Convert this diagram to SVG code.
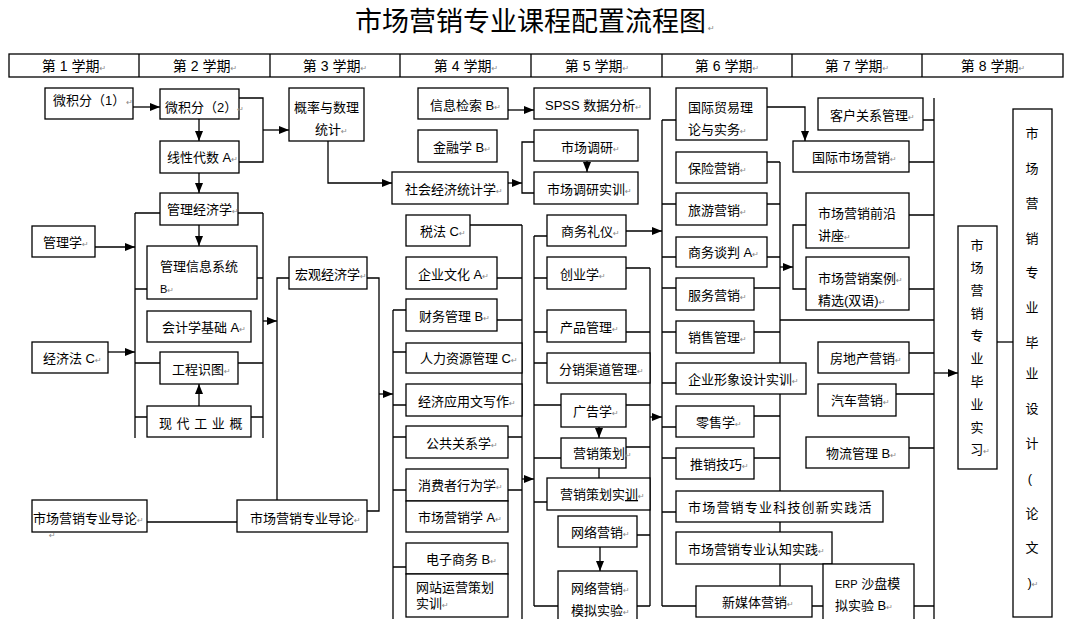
<svg xmlns="http://www.w3.org/2000/svg" width="1067" height="619" viewBox="0 0 1067 619">
<style>
.b{fill:#fff;stroke:#000;stroke-width:1.3}
.t{font-family:"Liberation Sans","Noto Sans CJK SC",sans-serif;font-size:13px;fill:#000}
.h{font-size:14px}
.r{font-family:"DejaVu Sans",sans-serif;font-size:8px;fill:#888}
.c{fill:none;stroke:#000;stroke-width:1.3}
.a{marker-end:url(#ah)}
.v{text-anchor:middle}
</style>
<defs>
<marker id="ah" markerWidth="10" markerHeight="8" refX="10" refY="4" orient="auto" markerUnits="userSpaceOnUse"><path d="M0,0 L10,4 L0,8 z" fill="#000"/></marker>
</defs>
<rect width="1067" height="619" fill="#fff"/>
<g id="title"><text class="t" x="355" y="31" style="font-size:27px">市场营销专业课程配置流程图<tspan class="r" dx="2">↵</tspan></text></g>
<g id="header">
<rect class="b" x="9" y="54" width="1054" height="23"/>
<path class="c" d="M139,54V77M270,54V77M400,54V77M531,54V77M662,54V77M792,54V77M922,54V77"/>
<text class="t h v" x="74" y="71">第 1 学期<tspan class="r">↵</tspan></text>
<text class="t h v" x="205" y="71">第 2 学期<tspan class="r">↵</tspan></text>
<text class="t h v" x="335" y="71">第 3 学期<tspan class="r">↵</tspan></text>
<text class="t h v" x="466" y="71">第 4 学期<tspan class="r">↵</tspan></text>
<text class="t h v" x="597" y="71">第 5 学期<tspan class="r">↵</tspan></text>
<text class="t h v" x="727" y="71">第 6 学期<tspan class="r">↵</tspan></text>
<text class="t h v" x="857" y="71">第 7 学期<tspan class="r">↵</tspan></text>
<text class="t h v" x="993" y="71">第 8 学期<tspan class="r">↵</tspan></text>
</g>
<g id="connectors">
<path class="c a" d="M133,107H160"/>
<path class="c a" d="M199,119V141"/>
<path class="c a" d="M199,173V193"/>
<path class="c" d="M239,98H263V162H239"/>
<path class="c a" d="M263,130H289"/>
<path class="c a" d="M328,141V183H392"/>
<path class="c a" d="M508,110H534"/>
<path class="c a" d="M508,183H522"/>
<path class="c" d="M534,142H522V193H534"/>
<path class="c a" d="M587,161V172"/>
<path class="c" d="M135,213V438M263,213V438M135,213H160M238,213H263M135,289H147M257,278H263M135,363H160M238,363H263M135,417H147M251,417H263"/>
<path class="c a" d="M199,225V246"/>
<path class="c a" d="M95,247H135"/>
<path class="c a" d="M108,352H135"/>
<path class="c a" d="M199,406V384"/>
<path class="c a" d="M263,321H277"/>
<path class="c" d="M289,278H277V500"/>
<path class="c" d="M147,522H237"/>
<path class="c" d="M367,278H379V511H367"/>
<path class="c a" d="M379,394H393"/>
<path class="c" d="M393,310V619M393,310H406M393,352H406M393,405H406M393,437H406M393,490H406M393,567H406"/>
<path class="c" d="M522,225V619M470,225H522M497,278H522M497,320H522M508,437H522M508,490H522"/>
<path class="c a" d="M522,479H534"/>
<path class="c" d="M534,236V606M534,236H547M534,278H547M534,332H547M534,363H547M534,405H561M534,458H561M534,502H547M534,606H558"/>
<path class="c" d="M650,268V606M626,268H650M626,332H650M626,405H650M626,447H650M637,535H650M637,606H650"/>
<path class="c a" d="M599,427V438"/>
<path class="c a" d="M599,468V488"/>
<path class="c a" d="M600,547V571"/>
<path class="c a" d="M626,231H662"/>
<path class="c a" d="M650,417H662"/>
<path class="c" d="M662,120V606M662,120H676M662,204H676M662,257H676M662,288H676M662,332H676M662,383H676M662,427H676M662,458H676M662,512H676M662,606H696"/>
<path class="c" d="M780,162V586M767,162H780M767,204H780M767,257H780M754,288H780M754,332H780M754,416H780M754,458H780"/>
<path class="c a" d="M780,267H793"/>
<path class="c" d="M806,225H793V289H806"/>
<path class="c" d="M780,320H934"/>
<path class="c" d="M812,606H823M914,606H934"/>
<path class="c a" d="M767,107H805V141"/>
<path class="c" d="M934,98V619M923,120H934M909,162H934M909,215H934M909,289H934M909,353H934M896,394H934M909,448H934"/>
<path class="c a" d="M934,373H958"/>
<path class="c" d="M997,342H1013"/>
</g>
<g id="n_wjf1"><rect class="b" x="45" y="88" width="88" height="31"/><text class="t" x="53" y="105">微积分（1）<tspan class="r" dx="1">↵</tspan></text></g>
<g id="n_glx"><rect class="b" x="32" y="226" width="63" height="31"/><text class="t" x="43" y="247">管理学<tspan class="r">↵</tspan></text></g>
<g id="n_jjf"><rect class="b" x="32" y="342" width="76" height="31"/><text class="t" x="43" y="363">经济法 C<tspan class="r">↵</tspan></text></g>
<g id="n_dl1"><rect class="b" x="32" y="500" width="115" height="32"/><text class="t" x="33" y="523">市场营销专业导论<tspan class="r">↵</tspan></text><text class="r" x="49" y="538">↵</text></g>
<g id="n_wjf2"><rect class="b" x="160" y="89" width="79" height="30"/><text class="t" x="165" y="112">微积分（2）<tspan class="r">↵</tspan></text></g>
<g id="n_xxds"><rect class="b" x="160" y="141" width="79" height="32"/><text class="t" x="167" y="162">线性代数 A<tspan class="r">↵</tspan></text></g>
<g id="n_gljjx"><rect class="b" x="160" y="193" width="78" height="32"/><text class="t" x="167" y="214">管理经济学<tspan class="r">↵</tspan></text></g>
<g id="n_glxx"><rect class="b" x="147" y="246" width="110" height="53"/><text class="t" x="160" y="271">管理信息系统</text><text class="t" x="160" y="293" style="font-size:11px">B<tspan class="r">↵</tspan></text></g>
<g id="n_kjx"><rect class="b" x="147" y="311" width="104" height="31"/><text class="t" x="162" y="332">会计学基础 A<tspan class="r">↵</tspan></text></g>
<g id="n_gcst"><rect class="b" x="160" y="352" width="78" height="32"/><text class="t" x="172" y="374">工程识图<tspan class="r">↵</tspan></text></g>
<g id="n_xdgy"><rect class="b" x="147" y="406" width="104" height="31"/><text class="t" x="159" y="428" style="letter-spacing:4.6px">现代工业概</text></g>
<g id="n_dl2"><rect class="b" x="237" y="500" width="130" height="32"/><text class="t" x="250" y="523">市场营销专业导论<tspan class="r">↵</tspan></text></g>
<g id="n_gl"><rect class="b" x="289" y="88" width="75" height="53"/><text class="t" x="294" y="112">概率与数理</text><text class="t" x="315" y="134">统计<tspan class="r">↵</tspan></text></g>
<g id="n_hgjj"><rect class="b" x="289" y="257" width="78" height="32"/><text class="t" x="295" y="279">宏观经济学<tspan class="r">↵</tspan></text></g>
<g id="n_xxjs"><rect class="b" x="418" y="88" width="90" height="31"/><text class="t" x="430" y="110">信息检索 B<tspan class="r">↵</tspan></text></g>
<g id="n_jrx"><rect class="b" x="418" y="130" width="79" height="32"/><text class="t" x="433" y="152">金融学 B<tspan class="r">↵</tspan></text></g>
<g id="n_shjj"><rect class="b" x="392" y="172" width="116" height="32"/><text class="t" x="405" y="194">社会经济统计学<tspan class="r">↵</tspan></text></g>
<g id="n_sf"><rect class="b" x="406" y="215" width="64" height="31"/><text class="t" x="420" y="236">税法 C<tspan class="r">↵</tspan></text></g>
<g id="n_qywh"><rect class="b" x="406" y="257" width="91" height="32"/><text class="t" x="418" y="279">企业文化 A<tspan class="r">↵</tspan></text></g>
<g id="n_cwgl"><rect class="b" x="406" y="299" width="91" height="32"/><text class="t" x="419" y="321">财务管理 B<tspan class="r">↵</tspan></text></g>
<g id="n_rlzy"><rect class="b" x="406" y="343" width="116" height="30"/><text class="t" x="420" y="363">人力资源管理 C<tspan class="r">↵</tspan></text></g>
<g id="n_jjyy"><rect class="b" x="406" y="384" width="116" height="32"/><text class="t" x="418" y="406">经济应用文写作<tspan class="r">↵</tspan></text></g>
<g id="n_gggx"><rect class="b" x="406" y="426" width="102" height="32"/><text class="t" x="426" y="448">公共关系学<tspan class="r">↵</tspan></text></g>
<g id="n_xfz"><rect class="b" x="406" y="469" width="102" height="32"/><text class="t" x="418" y="490">消费者行为学<tspan class="r">↵</tspan></text></g>
<g id="n_scyxx"><rect class="b" x="406" y="501" width="102" height="31"/><text class="t" x="418" y="522">市场营销学 A<tspan class="r">↵</tspan></text></g>
<g id="n_dzsw"><rect class="b" x="406" y="543" width="102" height="31"/><text class="t" x="426" y="564">电子商务 B<tspan class="r">↵</tspan></text></g>
<g id="n_wzyy"><rect class="b" x="406" y="574" width="102" height="43"/><text class="t" x="416" y="592">网站运营策划</text><text class="t" x="416" y="608">实训<tspan class="r">↵</tspan></text></g>
<g id="n_spss"><rect class="b" x="534" y="88" width="116" height="31"/><text class="t" x="545" y="110">SPSS 数据分析<tspan class="r">↵</tspan></text></g>
<g id="n_scdy"><rect class="b" x="534" y="130" width="104" height="31"/><text class="t" x="561" y="152">市场调研<tspan class="r">↵</tspan></text></g>
<g id="n_scdysx"><rect class="b" x="534" y="172" width="104" height="32"/><text class="t" x="547" y="194">市场调研实训<tspan class="r">↵</tspan></text></g>
<g id="n_swly"><rect class="b" x="547" y="215" width="79" height="31"/><text class="t" x="561" y="236">商务礼仪<tspan class="r">↵</tspan></text></g>
<g id="n_cyx"><rect class="b" x="547" y="257" width="79" height="32"/><text class="t" x="560" y="279">创业学<tspan class="r">↵</tspan></text></g>
<g id="n_cpgl"><rect class="b" x="547" y="310" width="79" height="32"/><text class="t" x="560" y="332">产品管理<tspan class="r">↵</tspan></text></g>
<g id="n_fxqd"><rect class="b" x="547" y="353" width="103" height="30"/><text class="t" x="559" y="374">分销渠道管理<tspan class="r">↵</tspan></text></g>
<g id="n_ggx"><rect class="b" x="561" y="394" width="65" height="33"/><text class="t" x="573" y="416">广告学<tspan class="r">↵</tspan></text></g>
<g id="n_yxch"><rect class="b" x="561" y="438" width="65" height="30"/><text class="t" x="573" y="458">营销策划<tspan class="r">↵</tspan></text></g>
<g id="n_yxchsx"><rect class="b" x="547" y="478" width="103" height="32"/><text class="t" x="560" y="499">营销策划实<tspan text-decoration="underline">训</tspan><tspan class="r">↵</tspan></text></g>
<g id="n_wlyx"><rect class="b" x="558" y="516" width="79" height="31"/><text class="t" x="571" y="537">网络营销<tspan class="r">↵</tspan></text></g>
<g id="n_wlyxmn"><rect class="b" x="558" y="571" width="79" height="52"/><text class="t" x="571" y="593">网络营销<tspan class="r">↵</tspan></text><text class="t" x="571" y="615">模拟实验<tspan class="r">↵</tspan></text></g>
<g id="n_gjmy"><rect class="b" x="676" y="88" width="91" height="52"/><text class="t" x="688" y="112">国际贸易理</text><text class="t" x="688" y="134">论与实务<tspan class="r">↵</tspan></text></g>
<g id="n_bxyx"><rect class="b" x="676" y="152" width="91" height="31"/><text class="t" x="688" y="173">保险营销<tspan class="r">↵</tspan></text></g>
<g id="n_lyyx"><rect class="b" x="676" y="193" width="91" height="32"/><text class="t" x="688" y="215">旅游营销<tspan class="r">↵</tspan></text></g>
<g id="n_swtp"><rect class="b" x="676" y="237" width="91" height="30"/><text class="t" x="688" y="257">商务谈判 A<tspan class="r">↵</tspan></text></g>
<g id="n_fwyx"><rect class="b" x="676" y="278" width="78" height="32"/><text class="t" x="688" y="300">服务营销<tspan class="r">↵</tspan></text></g>
<g id="n_xsgl"><rect class="b" x="676" y="321" width="78" height="32"/><text class="t" x="688" y="342">销售管理<tspan class="r">↵</tspan></text></g>
<g id="n_qyxx"><rect class="b" x="676" y="363" width="130" height="31"/><text class="t" x="688" y="384">企业形象设计实训<tspan class="r">↵</tspan></text></g>
<g id="n_lsx"><rect class="b" x="676" y="406" width="78" height="31"/><text class="t" x="696" y="427">零售学<tspan class="r">↵</tspan></text></g>
<g id="n_txjq"><rect class="b" x="676" y="448" width="78" height="31"/><text class="t" x="690" y="469">推销技巧<tspan class="r">↵</tspan></text></g>
<g id="n_kjcx"><rect class="b" x="676" y="491" width="207" height="31"/><text class="t" x="688" y="512" style="letter-spacing:1.2px">市场营销专业科技创新实践活</text></g>
<g id="n_rzsj"><rect class="b" x="676" y="532" width="156" height="32"/><text class="t" x="688" y="554">市场营销专业认知实践<tspan class="r">↵</tspan></text></g>
<g id="n_xmt"><rect class="b" x="696" y="586" width="116" height="31"/><text class="t" x="722" y="607">新媒体营销<tspan class="r">↵</tspan></text></g>
<g id="n_erp"><rect class="b" x="823" y="564" width="91" height="59"/><text class="t" x="835" y="588"><tspan style="font-size:11px">ERP</tspan>  沙盘模</text><text class="t" x="835" y="610">拟实验 B<tspan class="r">↵</tspan></text></g>
<g id="n_khgx"><rect class="b" x="818" y="98" width="105" height="32"/><text class="t" x="830" y="120">客户关系管理<tspan class="r">↵</tspan></text></g>
<g id="n_gjsc"><rect class="b" x="793" y="141" width="116" height="31"/><text class="t" x="812" y="162">国际市场营销<tspan class="r">↵</tspan></text></g>
<g id="n_qyjz"><rect class="b" x="806" y="193" width="103" height="55"/><text class="t" x="818" y="218">市场营销前沿</text><text class="t" x="818" y="240">讲座<tspan class="r">↵</tspan></text></g>
<g id="n_alxj"><rect class="b" x="806" y="257" width="103" height="53"/><text class="t" x="818" y="283">市场营销案例<tspan class="r">↵</tspan></text><text class="t" x="818" y="305">精选(双语)<tspan class="r">↵</tspan></text></g>
<g id="n_fdc"><rect class="b" x="818" y="342" width="91" height="31"/><text class="t" x="830" y="363">房地产营销<tspan class="r">↵</tspan></text></g>
<g id="n_qcyx"><rect class="b" x="818" y="384" width="78" height="32"/><text class="t" x="831" y="405">汽车营销<tspan class="r">↵</tspan></text></g>
<g id="n_wlgl"><rect class="b" x="806" y="437" width="103" height="31"/><text class="t" x="826" y="458">物流管理 B<tspan class="r">↵</tspan></text></g>
<g id="n_byxx"><rect class="b" x="958" y="226" width="39" height="243"/><text class="t v"><tspan x="977" y="250">市</tspan><tspan x="977" y="272">场</tspan><tspan x="977" y="295">营</tspan><tspan x="977" y="318">销</tspan><tspan x="977" y="340">专</tspan><tspan x="977" y="363">业</tspan><tspan x="977" y="386">毕</tspan><tspan x="977" y="409">业</tspan><tspan x="977" y="432">实</tspan><tspan x="980" y="454">习<tspan class="r">↵</tspan></tspan></text></g>
<g id="n_bysj"><rect class="b" x="1013" y="109" width="39" height="508"/><text class="t v"><tspan x="1032" y="138">市</tspan><tspan x="1032" y="173">场</tspan><tspan x="1032" y="208">营</tspan><tspan x="1032" y="243">销</tspan><tspan x="1032" y="277">专</tspan><tspan x="1032" y="312">业</tspan><tspan x="1032" y="347">毕</tspan><tspan x="1032" y="378">业</tspan><tspan x="1032" y="413">设</tspan><tspan x="1032" y="448">计</tspan><tspan x="1030" y="483">(</tspan><tspan x="1032" y="518">论</tspan><tspan x="1032" y="552">文</tspan><tspan x="1033" y="587">)<tspan class="r">↵</tspan></tspan></text></g>
</svg>
